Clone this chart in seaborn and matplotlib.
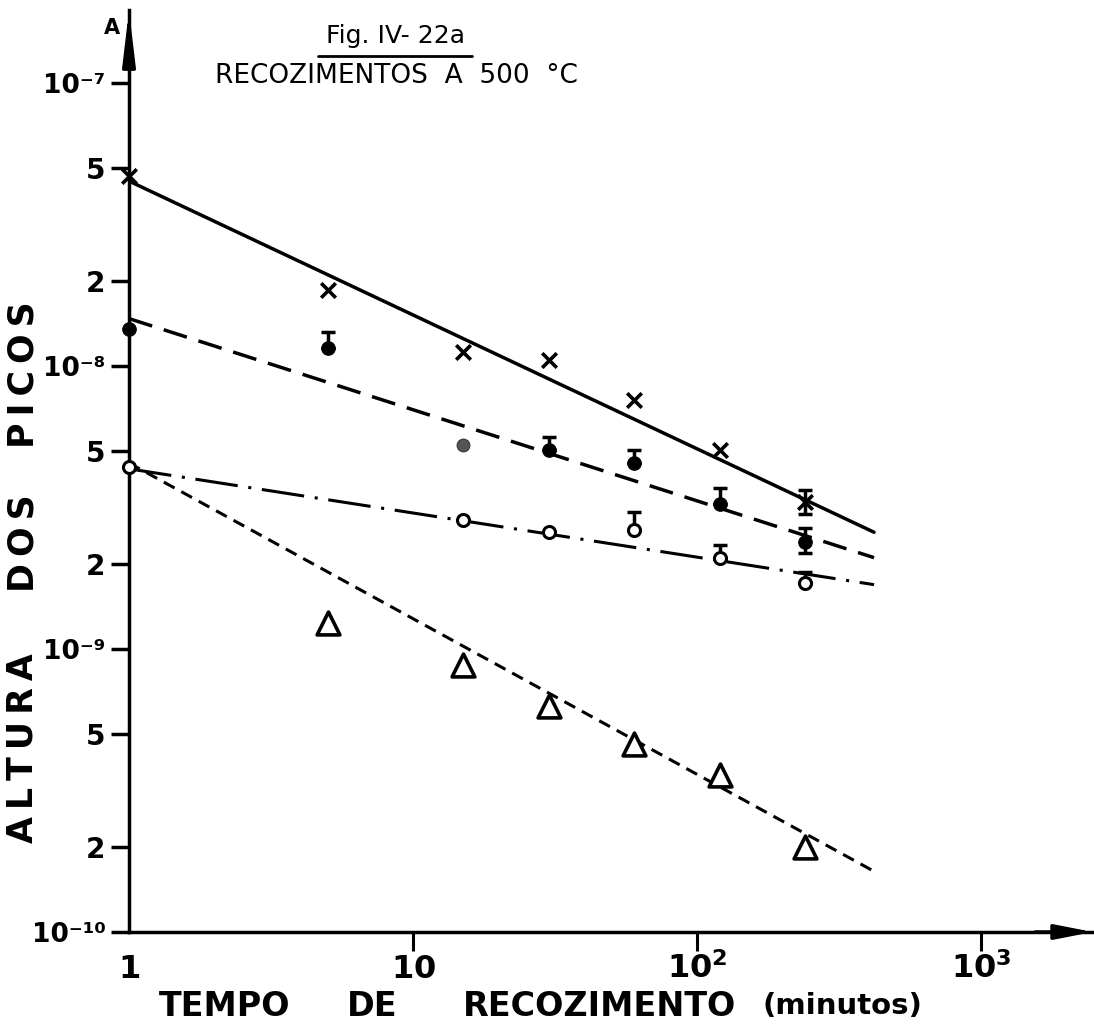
#!/usr/bin/env python3
"""Fig. IV-22a: peak height vs annealing time at 500 C (log-log)."""

import numpy as np
import matplotlib
matplotlib.use("Agg")
import matplotlib.pyplot as plt
import seaborn as sns
from matplotlib.lines import Line2D

# --- data ---
t_cross = [1, 5, 15, 30, 60, 120, 240]
a_cross = [4.7e-8, 1.86e-8, 1.12e-8, 1.05e-8, 7.6e-9, 5.05e-9, 3.3e-9]
cross_hi = [np.nan, np.nan, np.nan, np.nan, np.nan, np.nan, 3.65e-9]
cross_lo = [np.nan, np.nan, np.nan, np.nan, np.nan, np.nan, 3.0e-9]

t_full = [1, 5, 30, 60, 120, 240]
a_full = [1.35e-8, 1.16e-8, 5.05e-9, 4.54e-9, 3.25e-9, 2.39e-9]
full_hi = [np.nan, 1.32e-8, 5.6e-9, 5.05e-9, 3.7e-9, 2.68e-9]
full_lo = [np.nan, np.nan, np.nan, np.nan, np.nan, 2.18e-9]

t_grey = [15]
a_grey = [5.26e-9]

t_open = [1, 15, 30, 60, 120, 240]
a_open = [4.4e-9, 2.86e-9, 2.6e-9, 2.63e-9, 2.1e-9, 1.71e-9]
open_hi = [np.nan, np.nan, np.nan, 3.05e-9, 2.33e-9, 1.87e-9]

t_tri = [5, 15, 30, 60, 120, 240]
a_tri = [1.24e-9, 8.8e-10, 6.3e-10, 4.6e-10, 3.6e-10, 2.0e-10]

# fitted lines A = a0 * t^b, drawn from t=1 to t_end
fit_a0 = [4.5e-8, 1.47e-8, 4.33e-9, 4.54e-9]
fit_b = [-0.473, -0.322, -0.156, -0.55]
fit_style = ["-", (0, (7, 3.5)), (0, (14, 3.5, 1, 3.5)), (0, (4, 2.5))]
fit_lw = [2.5, 2.5, 2.2, 2.2]
t_end = 420

yticks = [1e-10, 2e-10, 5e-10, 1e-9, 2e-9, 5e-9, 1e-8, 2e-8, 5e-8, 1e-7]
ytick_labels = ["10\u207b\u00b9\u2070", "2", "5", "10\u207b\u2079", "2", "5",
                "10\u207b\u2078", "2", "5", "10\u207b\u2077"]
xticks = [1, 10, 100, 1000]
xtick_labels = [r"$\mathbf{1}$", r"$\mathbf{10}$", r"$\mathbf{10^{2}}$",
                r"$\mathbf{10^{3}}$"]

xlabel_words = ["TEMPO", "DE", "RECOZIMENTO", "(minutos)"]
ylabel_words = ["ALTURA", "DOS", "PICOS"]

sns.set_style("white")
plt.rcParams["font.family"] = ["DejaVu Sans"]
for key in ["text.color", "axes.labelcolor", "xtick.color", "ytick.color"]:
    plt.rcParams[key] = "black"

W, H = 1094, 1031
fig = plt.figure(figsize=(W / 100, H / 100), dpi=100)
ax = fig.add_axes([129 / W, 1 - 932 / H, (1093 - 129) / W, (932 - 10) / H])
ax.set_xscale("log")
ax.set_yscale("log")
ax.set_xlim(1, 2478)
ax.set_ylim(1e-10, 1.81e-7)

# fitted lines
t_fit = np.geomspace(1, t_end, 60)
for a0, b, ls, lw in zip(fit_a0, fit_b, fit_style, fit_lw):
    sns.lineplot(x=t_fit, y=a0 * t_fit ** b, color="black", lw=lw,
                 linestyle=ls, ax=ax, zorder=2)

# error bars (upper / lower limits)
def bars(t, a, hi, lo=None):
    a = np.array(a)
    up = np.nan_to_num(np.array(hi) - a, nan=0.0)
    dn = np.zeros_like(a) if lo is None else np.nan_to_num(a - np.array(lo), nan=0.0)
    keep = (up > 0) | (dn > 0)
    ax.errorbar(np.array(t)[keep], a[keep], yerr=[dn[keep], up[keep]], fmt="none",
                ecolor="black", elinewidth=2.5, capsize=5, capthick=2.5, zorder=3)

bars(t_cross, a_cross, cross_hi, cross_lo)
bars(t_full, a_full, full_hi, full_lo)
bars(t_open, a_open, open_hi)

sns.scatterplot(x=t_cross, y=a_cross, marker="x", color="black", s=110,
                linewidth=2.6, ax=ax, zorder=4, clip_on=False)
sns.scatterplot(x=t_full, y=a_full, marker="o", color="black", s=95,
                edgecolor="black", ax=ax, zorder=4, clip_on=False)
sns.scatterplot(x=t_grey, y=a_grey, marker="o", color="#555555", s=85,
                edgecolor="#333333", ax=ax, zorder=4, clip_on=False)
sns.scatterplot(x=t_open, y=a_open, marker="o", color="white", s=75,
                edgecolor="black", linewidth=2.2, ax=ax, zorder=4, clip_on=False)
sns.scatterplot(x=t_tri, y=a_tri, marker="^", color="white", s=270,
                edgecolor="black", linewidth=2.6, ax=ax, zorder=4, clip_on=False)

# axes: only left / bottom with arrows
for side in ["top", "right"]:
    ax.spines[side].set_visible(False)
for side in ["left", "bottom"]:
    ax.spines[side].set_linewidth(2.5)
    ax.spines[side].set_color("black")
ax.annotate("", xy=(0, 1.0), xytext=(0, 0.94), xycoords="axes fraction",
            arrowprops=dict(arrowstyle="-|>,head_length=3.2,head_width=0.38",
                            color="black", lw=2.5, shrinkA=0, shrinkB=0))
ax.annotate("", xy=(1.0, 0), xytext=(0.94, 0), xycoords="axes fraction",
            arrowprops=dict(arrowstyle="-|>,head_length=2.3,head_width=0.45",
                            color="black", lw=2.5, shrinkA=0, shrinkB=0))

ax.minorticks_off()
ax.set_yticks(yticks)
ax.set_yticklabels(ytick_labels)
ax.set_xticks(xticks)
ax.set_xticklabels(xtick_labels)
ax.tick_params(axis="y", direction="out", length=13, width=2.5, pad=4,
               labelsize=20, left=True)
ax.tick_params(axis="x", direction="out", length=14, width=2.2, pad=19,
               labelsize=23, bottom=True)
for lab in ax.get_yticklabels():
    lab.set_fontweight("bold")
    if lab.get_text().startswith("10"):
        lab.set_fontsize(19)
for lab in ax.get_xticklabels():
    lab.set_verticalalignment("baseline")
ax.xaxis.get_major_ticks()[0].tick1line.set_visible(False)
ax.set_xlabel("")
ax.set_ylabel("")

# texts
fig.text(112 / W, 1 - 28 / H, "A", ha="center", va="center", fontsize=15,
         fontweight="bold")
fig.text(395 / W, 1 - 36 / H, "Fig. IV- 22a", ha="center", va="center",
         fontsize=18)
fig.add_artist(Line2D([318 / W, 472 / W], [1 - 56 / H, 1 - 56 / H],
                      color="black", lw=2))
fig.text(215 / W, 1 - 76 / H, "RECOZIMENTOS  A  500  °C", ha="left",
         va="center", fontsize=19)

for word, xc, fs in zip(xlabel_words, [225, 372, 600, 842], [24, 24, 24, 21]):
    fig.text(xc / W, 1 - 1006 / H, word, ha="center", va="center",
             fontsize=fs, fontweight="bold")
for word, yc in zip(ylabel_words, [748, 543, 375]):
    fig.text(23 / W, 1 - yc / H, "\u2009".join(word), ha="center", va="center",
             rotation=90, fontsize=25, fontweight="bold")

fig.savefig("out.png", dpi=100)
